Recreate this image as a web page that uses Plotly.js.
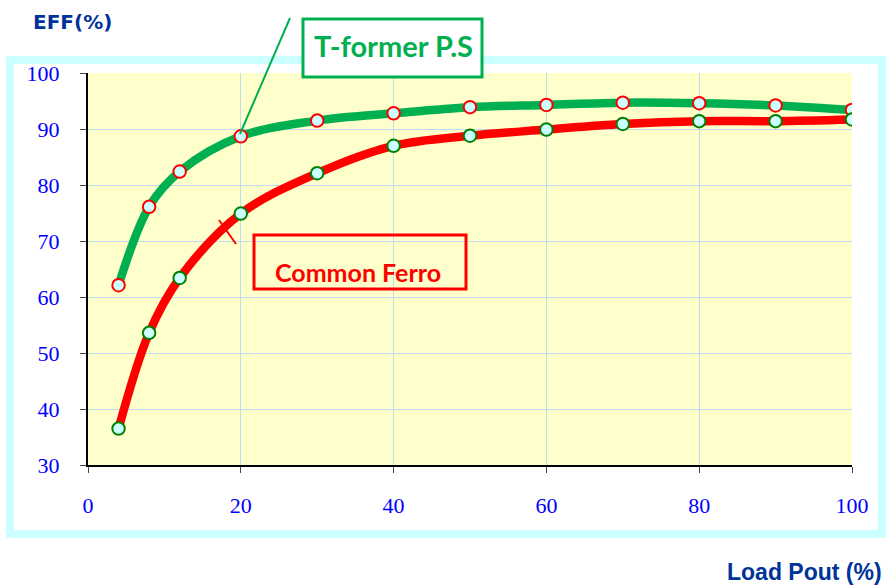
<!DOCTYPE html>
<html><head><meta charset="utf-8">
<script src="https://cdn.plot.ly/plotly-3.0.1.min.js"></script>
<style>html,body{margin:0;padding:0;background:#fff;}#chart{width:886px;height:585px;}</style>
</head><body><div id="chart"></div>
<script>
var loadPout = [4, 8, 12, 20, 30, 40, 50, 60, 70, 80, 90, 100];
var tformerEff = [62.1, 76.1, 82.4, 88.7, 91.5, 92.8, 93.9, 94.3, 94.7, 94.6, 94.2, 93.4];
var ferroEff = [36.5, 53.6, 63.4, 74.9, 82.1, 87.0, 88.8, 89.9, 90.9, 91.4, 91.4, 91.7];
var xTicks = [0, 20, 40, 60, 80, 100];
var yTicks = [30, 40, 50, 60, 70, 80, 90, 100];

var W = 886, H = 585, L = 88, R = 34, T = 73, B = 120;
var pw = W - L - R, ph = H - T - B;
function px(x){ return (x - L) / pw; }
function py(y){ return (H - B - y) / ph; }

var traces = [
  {x: loadPout, y: tformerEff, mode: 'lines+markers', name: 'T-former P.S',
   line: {color: '#00b050', width: 8.5, shape: 'spline', smoothing: 1},
   marker: {size: 12.5, color: '#ccffff', line: {color: '#ff0000', width: 2}}},
  {x: loadPout, y: ferroEff, mode: 'lines+markers', name: 'Common Ferro',
   line: {color: '#ff0000', width: 8.5, shape: 'spline', smoothing: 1},
   marker: {size: 12.5, color: '#ccffff', line: {color: '#008000', width: 2}}}
];

var axisFont = {family: '"Liberation Serif", "Times New Roman", serif', size: 22, color: '#0000ff'};
var layout = {
  width: W, height: H,
  margin: {l: L, r: R, t: T, b: B, pad: 0},
  paper_bgcolor: '#ffffff', plot_bgcolor: '#ffffcc',
  showlegend: false,
  xaxis: {range: [0, 100], tickvals: xTicks, ticks: 'outside', ticklen: 6, tickcolor: '#444',
          showline: true, linecolor: '#000', linewidth: 2, gridcolor: '#bfdcf0', gridwidth: 1,
          zeroline: false, tickfont: axisFont, ticklabelstandoff: 14, fixedrange: true},
  yaxis: {range: [30, 100], tickvals: yTicks, ticks: 'outside', ticklen: 6, tickcolor: '#444',
          showline: true, linecolor: '#000', linewidth: 2, gridcolor: '#bfdcf0', gridwidth: 1,
          zeroline: false, tickfont: axisFont, ticklabelstandoff: 16, fixedrange: true},
  shapes: [
    {type: 'rect', xref: 'paper', yref: 'paper', layer: 'below',
     x0: px(10), x1: px(882), y0: py(60), y1: py(534),
     line: {color: '#ccffff', width: 8}, fillcolor: 'rgba(0,0,0,0)'},
    {type: 'line', xref: 'paper', yref: 'paper', x0: px(240), y0: py(134), x1: px(290), y1: py(18),
     line: {color: '#00b050', width: 2}},
    {type: 'rect', xref: 'paper', yref: 'paper', x0: px(303), x1: px(482), y0: py(19), y1: py(77),
     line: {color: '#00b050', width: 3}, fillcolor: '#ffffff'},
    {type: 'rect', xref: 'paper', yref: 'paper', x0: px(254), x1: px(466), y0: py(235), y1: py(289),
     line: {color: '#ff0000', width: 3}, fillcolor: 'rgba(0,0,0,0)'},
    {type: 'line', xref: 'paper', yref: 'paper', x0: px(219), y0: py(220), x1: px(236), y1: py(244),
     line: {color: '#ff0000', width: 2}}
  ],
  annotations: [
    {text: '<b>EFF(%)</b>', xref: 'paper', yref: 'paper', x: px(31), y: py(22), xanchor: 'left', yanchor: 'middle',
     showarrow: false, font: {family: '"DejaVu Sans", Verdana, sans-serif', size: 20, color: '#003399'}},
    {text: '<b>Load Pout (%)</b>', xref: 'paper', yref: 'paper', x: px(884), y: py(572), xanchor: 'right', yanchor: 'middle',
     showarrow: false, font: {family: '"Liberation Sans Narrow", "Arial Narrow", "Liberation Sans", sans-serif', size: 23, color: '#003399'}},
    {text: '<b>T-former P.S</b>', xref: 'paper', yref: 'paper', x: px(393), y: py(45), xanchor: 'center', yanchor: 'middle',
     showarrow: false, font: {family: 'Lato, "Open Sans", sans-serif', size: 29, color: '#00b050'}},
    {text: '<b>Common Ferro</b>', xref: 'paper', yref: 'paper', x: px(358), y: py(272), xanchor: 'center', yanchor: 'middle',
     showarrow: false, font: {family: 'Lato, "Open Sans", sans-serif', size: 25, color: '#ff0000'}}
  ]
};
Plotly.newPlot('chart', traces, layout, {displayModeBar: false, staticPlot: true});
</script></body></html>
